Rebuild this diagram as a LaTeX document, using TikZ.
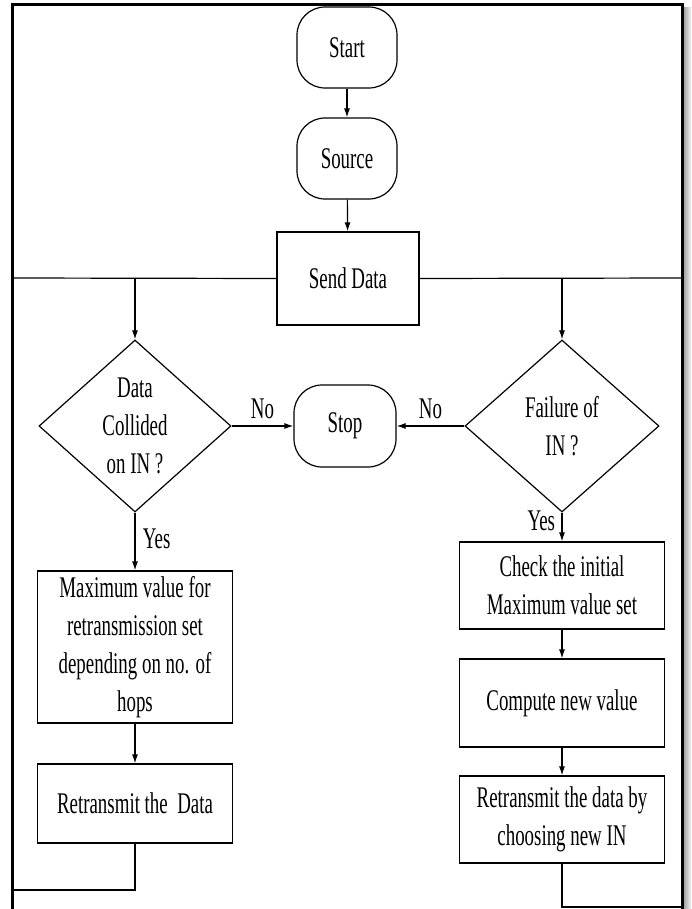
\documentclass[tikz,border=0pt]{standalone}
\usepackage{fontspec}
\setmainfont{Liberation Serif}[FakeStretch=0.63]
\usetikzlibrary{shapes.geometric,arrows.meta}

\begin{document}
\begin{tikzpicture}[x=1pt, y=-1pt, line width=1.2pt,
		every node/.style={font=\fontsize{30}{38}\selectfont, align=center},
		term/.style={draw, rounded corners=28pt, minimum width=100pt, minimum height=81pt, inner sep=0pt},
		proc/.style={draw, minimum width=195pt, inner sep=0pt},
		dec/.style={draw, diamond, aspect=1.12, inner sep=0pt, minimum width=192pt, minimum height=172pt},
		arr/.style={-{Latex[length=9pt,width=6pt]}}]
			\useasboundingbox (0,0) rectangle (691,909);
			\shade[left color=gray!70, right color=gray!10, draw=none] (684,8) rectangle (691,909);
			\draw[line width=3pt] (12,909) -- (12,5) -- (682,5) -- (682,909);
			\node[term] (start) at (347,47.5) {Start};
			\node[term] (source) at (347,158.5) {Source};
			\node[draw, minimum width=142pt, minimum height=93pt, inner sep=0pt] (send) at (348,278.5) {Send Data};
			\node[dec] (collide) at (135,426) {Data\\Collided\\on IN ?};
			\node[term, minimum width=102pt, minimum height=82pt] (stop) at (345,426) {Stop};
			\node[dec, minimum width=194pt] (fail) at (562,426) {Failure of\\IN ?};
			\node[proc, minimum height=152pt] (maxval) at (135,647) {Maximum value for\\retransmission set\\depending on no. of\\hops};
			\node[proc, minimum height=79pt] (retx) at (135,803.5) {Retransmit the~~Data};
			\node[proc, minimum width=205pt, minimum height=87pt] (check) at (562,585.5) {Check the initial\\Maximum value set};
			\node[proc, minimum width=205pt, minimum height=88pt] (compute) at (562,703) {Compute new value};
			\node[proc, minimum width=205pt, minimum height=87pt] (newin) at (562,819.5) {Retransmit the data by\\choosing new IN};
			\coordinate (fl) at (12,278);
			\coordinate (fr) at (682,278);
			\coordinate (jl) at (135,278);
			\coordinate (jr) at (562,278);
			\coordinate (ll) at (12,890);
			\coordinate (lr) at (682,907);
			\draw[arr] (start) -- (source);
			\draw[arr] (source) -- (send);
			\draw (send.west) -- (fl);
			\draw (send.east) -- (fr);
			\draw[arr] (jl) -- (collide);
			\draw[arr] (jr) -- (fail);
			\draw[arr] (collide) -- node[above=3pt] (no1) {No} (stop);
			\draw[arr] (fail) -- node[above=3pt] (no2) {No} (stop);
			\draw[arr] (collide) -- node[right=4pt, pos=0.45] (yes1) {Yes} (maxval);
			\draw[arr] (fail) -- node[left=3pt, pos=0.27] (yes2) {Yes} (check);
			\draw[arr] (maxval) -- (retx);
			\draw[arr] (check) -- (compute);
			\draw[arr] (compute) -- (newin);
			\draw (retx.south) |- (ll);
			\draw (newin.south) |- (lr);
		\end{tikzpicture}
\end{document}
